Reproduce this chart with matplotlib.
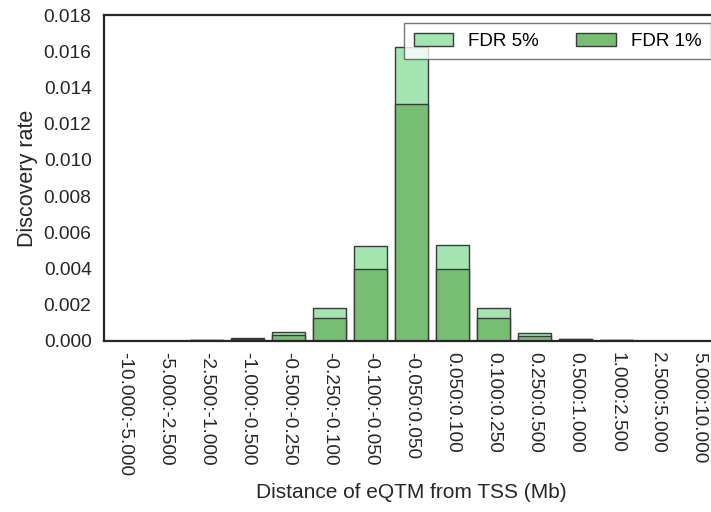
import numpy as np
import matplotlib
matplotlib.use("Agg")
import matplotlib.pyplot as plt

plt.rcParams["font.family"] = ["Liberation Sans", "DejaVu Sans"]

# distance bins (Mb)
bins = [
    "-10.000:-5.000", "-5.000:-2.500", "-2.500:-1.000", "-1.000:-0.500",
    "-0.500:-0.250", "-0.250:-0.100", "-0.100:-0.050", "-0.050:0.050",
    "0.050:0.100", "0.100:0.250", "0.250:0.500", "0.500:1.000",
    "1.000:2.500", "2.500:5.000", "5.000:10.000",
]
fdr5 = [0.00002, 0.00002, 0.00005, 0.00015, 0.00050, 0.00183, 0.00526, 0.01623,
        0.00532, 0.00183, 0.00044, 0.00013, 0.00005, 0.00002, 0.00001]
fdr1 = [0.00001, 0.00001, 0.00003, 0.00010, 0.00033, 0.00127, 0.00399, 0.01307,
        0.00399, 0.00127, 0.00028, 0.00009, 0.00003, 0.00001, 0.00001]

fig = plt.figure(figsize=(7.11, 5.12), dpi=100)
# right spine falls just outside the canvas, as in the original crop
ax = fig.add_axes([0.1463, 0.334, 0.865, 0.6367])

x = np.arange(len(bins))
ax.bar(x, fdr5, width=0.8, color="#a3e4b0", edgecolor="#3a3a3a",
       linewidth=1.0, label="FDR 5%")
ax.bar(x, fdr1, width=0.8, color="#78be72", edgecolor="#3a3a3a",
       linewidth=1.0, label="FDR 1%")

ax.set_xlim(-0.5, len(bins) - 0.5)
ax.set_ylim(0, 0.018)
yt = np.arange(0, 0.0181, 0.002)
ax.set_yticks(yt)
ax.set_yticklabels([f"{v:.3f}" for v in yt])
ax.set_xticks(x)
ax.set_xticklabels(bins, rotation=270)
ax.tick_params(length=0, labelsize=13.8, colors="#262626")
ax.tick_params(axis="y", pad=9)
ax.tick_params(axis="x", pad=8)

for s in ax.spines.values():
    s.set_color("#262626")
    s.set_linewidth(1.6)

ax.set_ylabel("Discovery rate", fontsize=15.5, color="#262626", labelpad=4)
ax.set_xlabel("Distance of eQTM from TSS (Mb)", fontsize=15,
              color="#262626", labelpad=5)

leg = ax.legend(loc="upper right", ncol=2, fontsize=13.5, fancybox=False,
                frameon=True, borderaxespad=0.45, columnspacing=2.0,
                handlelength=2.1, handletextpad=0.8, handleheight=0.7,
                borderpad=0.5)
leg.get_frame().set_edgecolor("#555555")
leg.get_frame().set_linewidth(1.0)

fig.savefig("out.png", dpi=100)
